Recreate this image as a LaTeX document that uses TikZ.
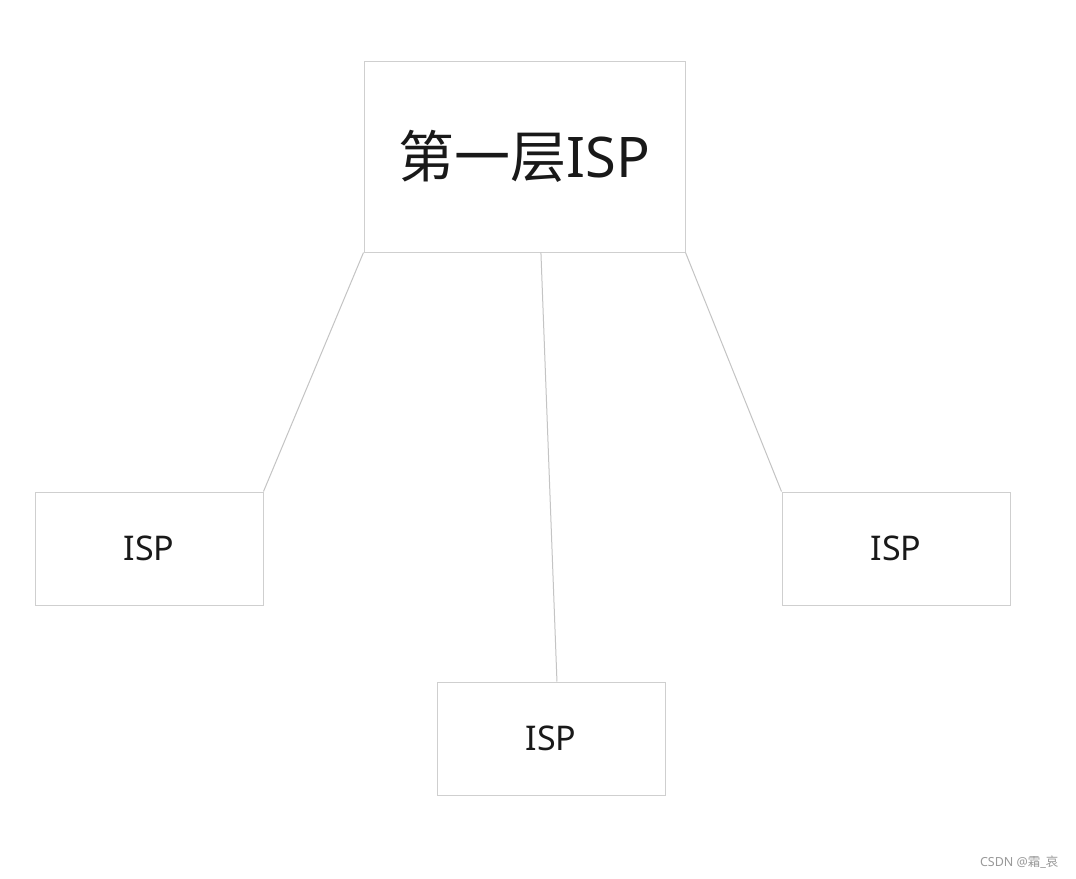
\documentclass[tikz,border=0pt]{standalone}
\usepackage{fontspec}
\setmainfont{Noto Sans}
\newfontfamily\cjk{Noto Sans CJK SC}
\usetikzlibrary{calc}
\definecolor{boxgray}{HTML}{CFCFCF}
\definecolor{linegray}{HTML}{C4C4C4}
\tikzstyle{ispbox}=[draw=boxgray,line width=1pt,minimum width=228pt,minimum height=113pt,inner sep=0pt,font=\fontsize{34}{38}\selectfont,text=black!90]
\tikzstyle{topbox}=[ispbox,minimum width=321pt,minimum height=191pt,font=\fontsize{56}{60}\selectfont]

\begin{document}
\begin{tikzpicture}[x=1pt,y=-1pt]
    \useasboundingbox[fill=white] (0,0) rectangle (1076,878);
    \node[topbox] (tier1) at (524.5,156.5) {{\cjk 第一层}ISP};
    \node[ispbox] (ispl) at (149,548.5) {ISP};
    \node[ispbox] (ispr) at (896,548.5) {ISP};
    \node[ispbox] (ispb) at (551,738.5) {ISP};

    \foreach \from/\to in {tier1.south west/ispl.north east,tier1.south east/ispr.north west}
    \draw[linegray,line width=1pt] (\from) -- (\to);
    \draw[linegray,line width=1pt] ($(tier1.south west)!0.551!(tier1.south east)$) -- ($(ispb.north west)!0.526!(ispb.north east)$);

    \node[anchor=east,text=black!40,font=\fontsize{12.5}{14}\selectfont] (mark) at (1062,862) {CSDN @{\cjk 霜}\_{\cjk 哀}};
\end{tikzpicture}
\end{document}
